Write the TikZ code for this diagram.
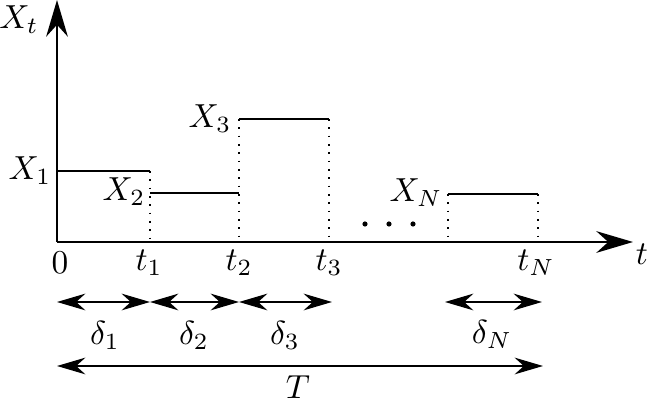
\documentclass[tikz,border=0pt]{standalone}
\usepackage{amsmath}
\usetikzlibrary{arrows.meta}

\tikzset{
  axis/.style={line width=0.7pt, -{Stealth[length=11pt,width=6.5pt]}},
  span/.style={line width=0.6pt, {Stealth[length=8.5pt,width=5pt]}-{Stealth[length=8.5pt,width=5pt]}},
  level/.style={line width=0.5pt},
  drop/.style={line width=0.5pt, dotted},
}

\begin{document}
\begin{tikzpicture}[x=0.3pt,y=-0.3pt]
  \useasboundingbox (0,0) rectangle (647,402);

  \coordinate (o) at (57,242);
  \coordinate (ytop) at (57,0);
  \coordinate (xend) at (633,242);

  \coordinate (t1) at (150,242);
  \coordinate (t2) at (239,242);
  \coordinate (t3) at (329,242);
  \coordinate (s) at (448,242);
  \coordinate (tN) at (538,242);

  \coordinate (a1) at (57,171);
  \coordinate (b1) at (150,171);
  \coordinate (a2) at (150,193);
  \coordinate (b2) at (239,193);
  \coordinate (a3) at (239,119);
  \coordinate (b3) at (329,119);
  \coordinate (aN) at (448,194);
  \coordinate (bN) at (538,194);

  \node (Xt) at (19,20) {$X_t$};
  \node (tlab) at (642,254) {$t$};
  \node (X1) at (30,171) {$X_1$};
  \node (X2) at (124,192) {$X_2$};
  \node (X3) at (210,119) {$X_3$};
  \node (XN) at (416,193) {$X_N$};

  \node (zero) at (60,263) {$0$};
  \node (lt1) at (149,263) {$t_1$};
  \node (lt2) at (239,263) {$t_2$};
  \node (lt3) at (329,263) {$t_3$};
  \node (ltN) at (536,263) {$t_N$};

  \draw[axis] (o) -- (ytop);
  \draw[axis] (o) -- (xend);

  \draw[level] (a1) -- (b1);
  \draw[level] (a2) -- (b2);
  \draw[level] (a3) -- (b3);
  \draw[level] (aN) -- (bN);

  \draw[drop] (b1) -- (t1);
  \draw[drop] (a3) -- (t2);
  \draw[drop] (b3) -- (t3);
  \draw[drop] (aN) -- (s);
  \draw[drop] (bN) -- (tN);

  \foreach \x in {365,389,413}
    \fill (\x,224) circle (2.6);

  \coordinate (d0) at (57,302);
  \coordinate (d1) at (150,302);
  \coordinate (d2) at (239,302);
  \coordinate (d3) at (332,302);
  \coordinate (e0) at (445,302);
  \coordinate (e1) at (542,302);
  \coordinate (T0) at (57,366);
  \coordinate (T1) at (543,366);

  \draw[span] (d0) -- (d1);
  \draw[span] (d1) -- (d2);
  \draw[span] (d2) -- (d3);
  \draw[span] (e0) -- (e1);
  \draw[span] (T0) -- (T1);

  \node (del1) at (105,335) {$\delta_1$};
  \node (del2) at (194,335) {$\delta_2$};
  \node (del3) at (285,335) {$\delta_3$};
  \node (delN) at (492,334) {$\delta_N$};
  \node (T) at (298,387) {$T$};
\end{tikzpicture}
\end{document}
